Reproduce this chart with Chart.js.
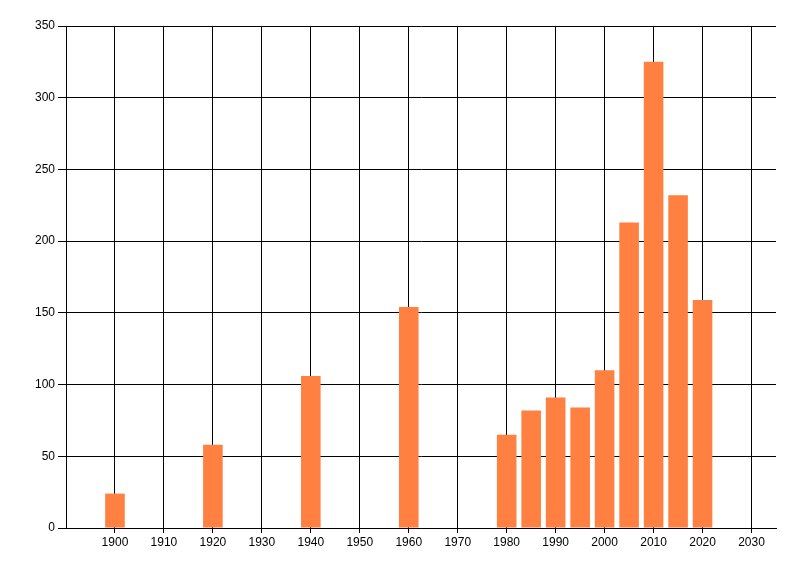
<!DOCTYPE html>
<html>
<head>
<meta charset="utf-8">
<script src="https://cdn.jsdelivr.net/npm/chart.js@4/dist/chart.umd.min.js"></script>
<style>
  html, body { margin: 0; padding: 0; background: #ffffff; }
  #wrap { width: 800px; height: 576px; }
</style>
</head>
<body>
<div id="wrap"><canvas id="c" width="800" height="576"></canvas></div>
<script>
const years = [1900, 1920, 1940, 1960, 1980, 1985, 1990, 1995, 2000, 2005, 2010, 2015, 2020];
const values = [24, 58, 106, 154, 65, 82, 91, 84, 110, 213, 325, 232, 159];
const xTicks = [1900, 1910, 1920, 1930, 1940, 1950, 1960, 1970, 1980, 1990, 2000, 2010, 2020, 2030];
const yTicks = [0, 50, 100, 150, 200, 250, 300, 350];

const tickFont = { family: "'Liberation Sans Narrow', 'Liberation Sans', Arial, sans-serif", size: 12 };

new Chart(document.getElementById('c'), {
  type: 'bar',
  data: {
    datasets: [{
      data: years.map((y, i) => ({ x: y, y: values[i] })),
      backgroundColor: '#FF8040',
      borderWidth: 0,
      categoryPercentage: 0.8,
      barPercentage: 1.0
    }]
  },
  options: {
    responsive: false,
    devicePixelRatio: 1,
    animation: false,
    layout: { padding: { left: 0, top: 26, right: 24, bottom: 0 } },
    plugins: { legend: { display: false }, tooltip: { enabled: false } },
    scales: {
      x: {
        type: 'linear',
        min: 1890,
        max: 2035,
        offset: false,
        afterBuildTicks: (s) => { s.ticks = xTicks.map(v => ({ value: v })); },
        afterFit: (s) => { s.height = 48; },
        grid: { color: '#000000', lineWidth: 1, tickLength: 5, drawTicks: true, offset: false },
        border: { display: true, color: '#000000', width: 1 },
        ticks: { color: '#000000', font: tickFont, padding: 2, maxRotation: 0, autoSkip: false,
                 callback: (v) => String(v) }
      },
      y: {
        min: 0,
        max: 350,
        afterBuildTicks: (s) => { s.ticks = yTicks.map(v => ({ value: v })); },
        afterFit: (s) => { s.width = 66; },
        grid: { color: '#000000', lineWidth: 1, tickLength: 8, drawTicks: true },
        border: { display: true, color: '#000000', width: 1 },
        ticks: { color: '#000000', font: tickFont, padding: 3, callback: (v) => String(v) }
      }
    }
  }
});
</script>
</body>
</html>
